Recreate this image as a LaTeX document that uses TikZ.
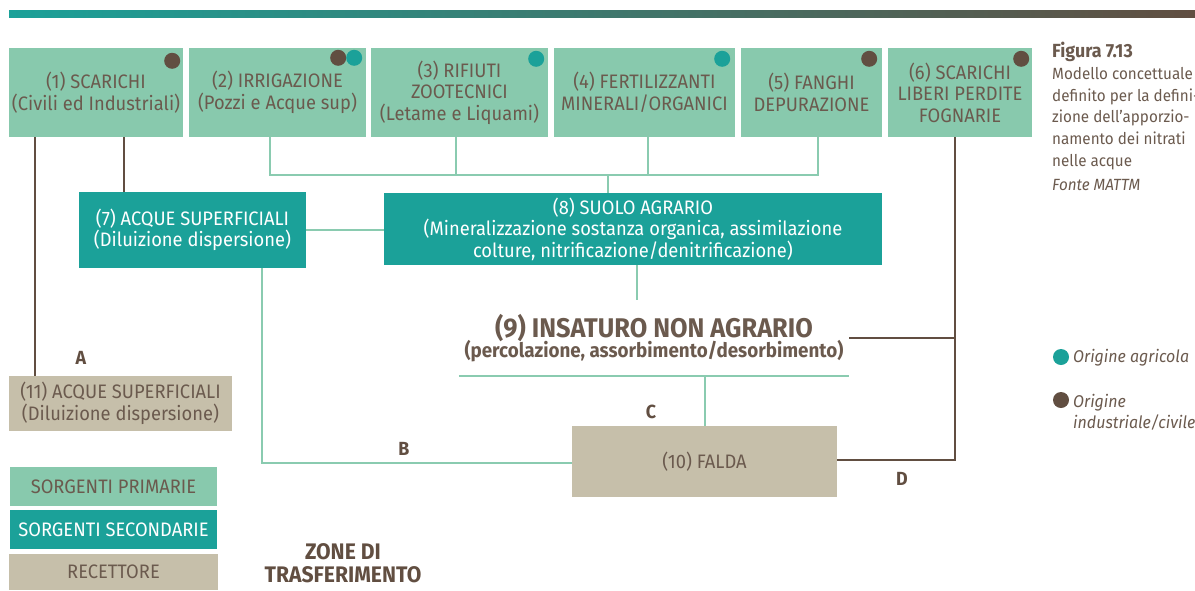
\documentclass[tikz,border=0pt]{standalone}
\usepackage{fontspec}
\setmainfont{Fira Sans}[FakeStretch=0.94]
\usetikzlibrary{positioning,calc}
\definecolor{primcol}{HTML}{88C9AD}
\definecolor{seccol}{HTML}{1BA199}
\definecolor{reccol}{HTML}{C6BFAA}
\definecolor{brn}{HTML}{614E41}
\definecolor{txtbrn}{HTML}{6B5A4E}
\definecolor{linkcol}{HTML}{8ACBB0}
\definecolor{midcol}{HTML}{3E8C7C}
\begin{document}
\begin{tikzpicture}[
    x=1pt, y=-1pt,
    font=\fontsize{19.5}{21.5}\selectfont,
    prim/.style={
        fill=primcol,
        text=txtbrn,
        align=center,
        minimum height=89pt,
        inner sep=0pt
    },
    sec/.style={
        fill=seccol,
        text=white,
        align=center,
        inner sep=0pt
    },
    rec/.style={
        fill=reccol,
        text=txtbrn,
        align=center,
        inner sep=0pt
    },
    link/.style={draw=linkcol, line width=2pt},
    flow/.style={draw=brn, line width=2pt},
    tag/.style={text=brn, font=\fontsize{19}{20}\selectfont\bfseries}
]
\useasboundingbox (0,0) rectangle (1195,590);

% Top band
\shade[left color=seccol, middle color=midcol, right color=brn] (9,10) rectangle (1195,17);

% Primary sources (top row)
\node[prim, minimum width=174pt] (scar) at (96,92.5)
{(1) SCARICHI\\(Civili ed Industriali)};
\node[prim, minimum width=177pt] (irrig) at (277.5,92.5)
{(2) IRRIGAZIONE\\(Pozzi e Acque sup)};
\node[prim, minimum width=177pt] (rifiu) at (459.5,92.5)
{(3) RIFIUTI\\ZOOTECNICI\\(Letame e Liquami)};
\node[prim, minimum width=181pt] (fert) at (644.5,92.5)
{(4) FERTILIZZANTI\\MINERALI/ORGANICI};
\node[prim, minimum width=141pt] (fangh) at (811.5,92.5)
{(5) FANGHI\\DEPURAZIONE};
\node[prim, minimum width=144pt] (fogn) at (960,92.5)
{(6) SCARICHI\\LIBERI PERDITE\\FOGNARIE};

% Origin dots
\fill[brn] ($(scar.north east)+(-11,13)$) circle (8);
\fill[brn] ($(irrig.north east)+(-28,10)$) circle (8);
\fill[seccol] ($(irrig.north east)+(-12,10)$) circle (8);
\fill[seccol] ($(rifiu.north east)+(-12,11)$) circle (8);
\fill[seccol] ($(fert.north east)+(-13,11)$) circle (8);
\fill[brn] ($(fangh.north east)+(-13,11)$) circle (8);
\fill[brn] ($(fogn.north east)+(-11,11)$) circle (8);

% Secondary sources
\node[sec, minimum width=227pt, minimum height=76pt] (sup7) at (192.5,230)
{(7) ACQUE SUPERFICIALI\\(Diluizione dispersione)};
\node[sec, minimum width=498pt, minimum height=72pt] (agr) at (633,229)
{(8) SUOLO AGRARIO\\(Mineralizzazione sostanza organica, assimilazione\\colture, nitrificazione/denitrificazione)};

% Transfer zone
\node[text=txtbrn, align=center, minimum width=390pt, minimum height=76pt, inner sep=0pt] (insat) at (654,338)
{{\fontsize{27}{28}\selectfont\bfseries (9) INSATURO NON AGRARIO}\\[-2pt]
{\fontsize{20}{21}\selectfont\bfseries (percolazione, assorbimento/desorbimento)}};

% Receptors
\node[rec, minimum width=265pt, minimum height=71pt] (falda) at (704.5,461.5)
{(10) FALDA};
\node[rec, minimum width=223pt, minimum height=55pt] (sup11) at (120.5,403.5)
{(11) ACQUE SUPERFICIALI\\(Diluizione dispersione)};

% Connectors
\coordinate (hub) at (608,175);
\coordinate (drop) at ([xshift=-5pt]fogn.south);
\draw[link] ([xshift=-7.5pt]irrig.south) |- (hub)
    -| ([xshift=6.5pt]fangh.south);
\draw[link] ([xshift=-3.5pt]rifiu.south) -- ([xshift=-3.5pt]rifiu.south |- hub);
\draw[link] ([xshift=3.5pt]fert.south) -- ([xshift=3.5pt]fert.south |- hub);
\draw[link] (hub) -- (hub |- agr.north);
\draw[link] (sup7.east) -- (sup7.east -| agr.west);
\draw[link] ([xshift=69.5pt]sup7.south) |- ([yshift=-1.5pt]falda.west);
\draw[link] ([xshift=4pt]agr.south) -- ([xshift=4pt]agr.south |- insat.north);
\draw[link] (insat.south west) -- (insat.south east);
\draw[link] (insat.south -| falda.north) -- (falda.north);
\draw[flow] ([xshift=-61pt]scar.south) -- ([xshift=-61pt]scar.south |- sup11.north);
\draw[flow] ([xshift=28pt]scar.south) -- ([xshift=28pt]scar.south |- sup7.north);
\draw[flow] (drop) |- ([yshift=1.5pt]falda.east);
\draw[flow] (insat.east) -- (insat.east -| drop);

% Path labels
\node[tag] (lA) at (81,358) {A};
\node[tag] (lB) at (404,449) {B};
\node[tag] (lC) at (651,412) {C};
\node[tag] (lD) at (902,479) {D};

% Legend boxes
\node[prim, minimum width=207pt, minimum height=39pt] (legp) at (113.5,486.5) {SORGENTI PRIMARIE};
\node[sec, minimum width=207pt, minimum height=39pt] (legs) at (113.5,529.5) {SORGENTI SECONDARIE};
\node[rec, minimum width=209pt, minimum height=36pt] (legr) at (113.5,572) {RECETTORE};
\node[text=brn, align=center, font=\fontsize{22.5}{23}\selectfont\bfseries] (zone) at (343,563.5)
{ZONE DI\\TRASFERIMENTO};

% Caption
\node[anchor=north west, align=left, text=txtbrn, inner sep=0pt,
      font=\fontsize{16.2}{21.7}\selectfont] (capt) at (1052,42)
{{\fontsize{19}{21.7}\selectfont\bfseries Figura 7.13}\\
Modello concettuale\\
definito per la defini-\\
zione dell’apporzio-\\
namento dei nitrati\\
nelle acque\\[3pt]
\itshape Fonte MATTM};

% Origin legend
\fill[seccol] (1061,357) circle (8);
\node[anchor=west, text=txtbrn, inner sep=0pt, font=\fontsize{17}{21}\selectfont\itshape] (orag) at (1073,358)
{Origine agricola};
\fill[brn] (1061,400) circle (8);
\node[anchor=west, align=left, text=txtbrn, inner sep=0pt, font=\fontsize{17}{21}\selectfont\itshape] (orin) at (1073,412)
{Origine\\industriale/civile};

\end{tikzpicture}
\end{document}
